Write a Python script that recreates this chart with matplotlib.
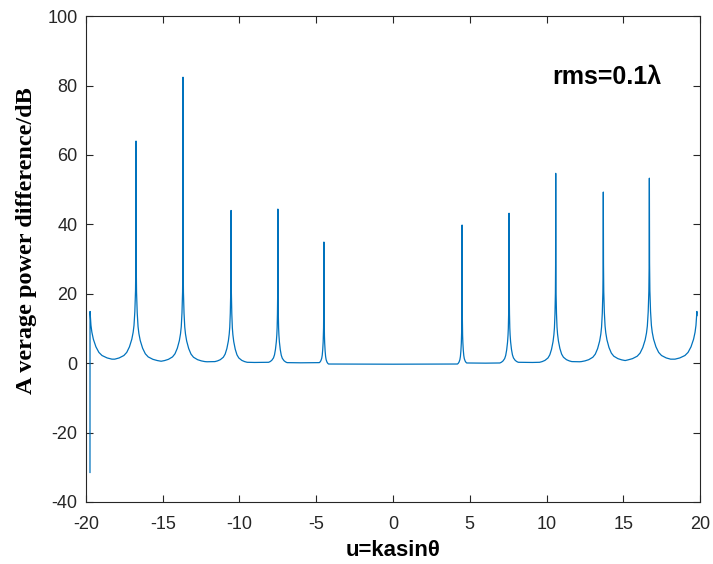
import numpy as np
import matplotlib
matplotlib.use("Agg")
import matplotlib.pyplot as plt

plt.rcParams["axes.unicode_minus"] = False

# spike positions (u) and peak heights (dB)
spike_u = [-16.74, -13.68, -10.55, -7.5, -4.5, 4.5, 7.56, 10.6, 13.7, 16.7]
spike_db = [64.0, 82.4, 44.0, 44.4, 34.9, 39.8, 43.2, 54.7, 49.3, 53.3]
# how wide each spike's skirt looks (u units)
spike_width = [1.1, 0.95, 0.7, 0.4, 0.2, 0.2, 0.4, 0.7, 0.95, 1.1]
# valley floor between neighbouring spikes (left edge .. right edge)
floor_db = [0.9, 0.5, 0.4, 0.2, 0.1, -0.3, 0.0, 0.2, 0.4, 0.7, 0.9]
# end points of the trace
u_start, start_db = -19.74, [-31.5, 13.7]
u_end, end_db = 19.8, 13.7
edge_center = [-19.82, 19.88]
edge_width = 1.2
skirt_off = [0.012, 0.03, 0.07, 0.12, 0.17, 0.25, 0.39, 0.55, 0.72, 1.0, 1.26, 1.5]
skirt_rise = [28, 20, 14, 10, 8, 6, 3.8, 2.2, 1.3, 0.6, 0.25, 0.05]

centers = [edge_center[0]] + spike_u + [edge_center[1]]
widths = [edge_width] + spike_width + [edge_width]

u, db = [u_start, u_start], list(start_db)
for i, f in enumerate(floor_db):
    a, b = centers[i], centers[i + 1]
    mid = 0.5 * (a + b)
    left = [(a + o * widths[i], f + r) for o, r in zip(skirt_off, skirt_rise)]
    right = [(b - o * widths[i + 1], f + r) for o, r in zip(skirt_off, skirt_rise)][::-1]
    left = [p for p in left if u[-1] < p[0] < mid]
    right = [p for p in right if mid < p[0] < u_end]
    # only pin the floor where the two skirts leave a flat gap
    if not left or not right or right[0][0] - left[-1][0] > 0.4:
        left.append((mid, f))
    for x, y in left + right:
        u.append(x)
        db.append(y)
    if i < len(spike_u):
        u.append(spike_u[i])
        db.append(spike_db[i])
u.append(u_end)
db.append(end_db)

fig = plt.figure(figsize=(7.13, 5.64), dpi=100)
ax = fig.add_axes([0.1206, 0.110, 0.8612, 0.8614])
ax.plot(u, db, color="#0072BD", lw=0.9)

ax.set_xlim(-20, 20)
ax.set_ylim(-40, 100)
ax.set_xticks(np.arange(-20, 21, 5))
ax.set_yticks(np.arange(-40, 101, 20))
ax.tick_params(direction="in", top=True, right=True, length=5, width=0.8,
               labelsize=13, colors="#262626")
ax.tick_params(axis="x", pad=10)
ax.tick_params(axis="y", pad=6)
for lab in ax.get_xticklabels() + ax.get_yticklabels():
    lab.set_family("Liberation Sans")
for s in ax.spines.values():
    s.set_color("#262626")
    s.set_linewidth(0.8)

ax.set_xlabel("u=kasinθ", family="Liberation Sans", fontweight="bold",
              fontsize=16, labelpad=5)
ax.set_ylabel("A verage power difference/dB", family="Liberation Serif",
              fontweight="bold", fontsize=17.5)
ax.yaxis.set_label_coords(-0.080, 0.537)
ax.text(10.4, 82.5, "rms=0.1λ", family="Liberation Sans", fontweight="bold",
        fontsize=18, va="center", ha="left")

fig.savefig("out.png", dpi=100)
